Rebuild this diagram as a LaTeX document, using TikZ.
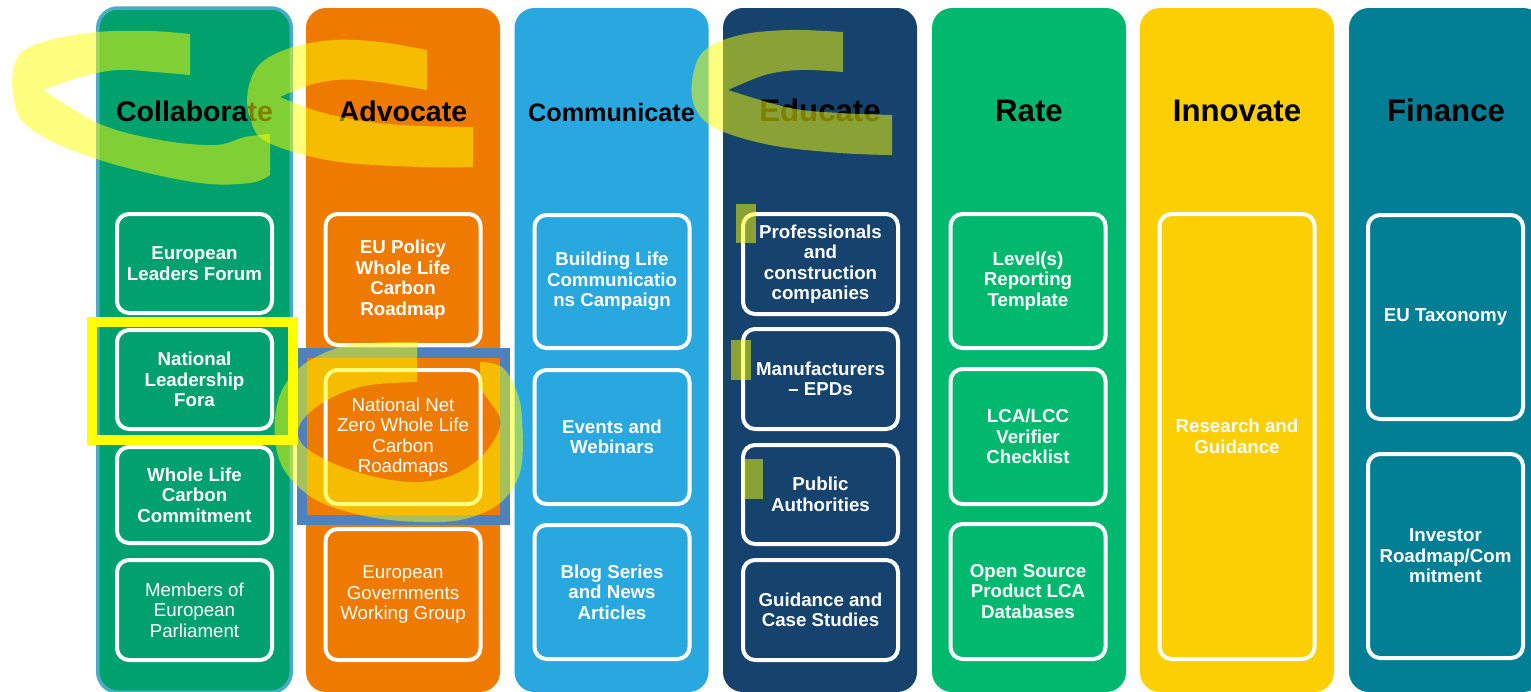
\documentclass[tikz,border=0pt]{standalone}
\usepackage{fontspec}
\setmainfont{Liberation Sans}
\definecolor{cCol}{RGB}{0,161,108}
\definecolor{cColB}{RGB}{75,172,198}
\definecolor{cAdv}{RGB}{238,123,0}
\definecolor{cCom}{RGB}{41,167,223}
\definecolor{cEdu}{RGB}{21,67,110}
\definecolor{cRate}{RGB}{0,185,110}
\definecolor{cInn}{RGB}{251,207,2}
\definecolor{cFin}{RGB}{2,127,149}
\definecolor{markblue}{RGB}{79,129,189}
\definecolor{markyellow}{RGB}{255,255,0}
\begin{document}
\begin{tikzpicture}[x=1pt,y=-1pt,
  col/.style={rounded corners=20pt, minimum width=194pt, minimum height=684pt, inner sep=0pt},
  head/.style={font=\fontsize{28.5}{30}\selectfont\bfseries, text=black, anchor=base, inner sep=0pt},
  bighead/.style={head, font=\fontsize{31.2}{33}\selectfont\bfseries},
  box/.style={draw=white, line width=4pt, rounded corners=12pt, minimum width=155pt, inner sep=0pt, align=center, text=white, font=\fontsize{18.7}{20.5}\selectfont\bfseries},
  plainbox/.style={box, font=\fontsize{18.7}{20.5}\selectfont},
  hl/.style={fill=markyellow, fill opacity=0.5},
  markrect/.style={line width=10pt, inner sep=0pt}]
\useasboundingbox (0,0) rectangle (1531,691);
\clip (0,0) rectangle (1531,691);
\fill[white] (0,0) rectangle (1531,691);

% columns
\node[col, fill=cCol, draw=cColB, line width=3.5pt, minimum width=193.5pt] (col1) at (194.5,350) {};
\node[col, fill=cAdv] (col2) at (403,350) {};
\node[col, fill=cCom] (col3) at (611.5,350) {};
\node[col, fill=cEdu] (col4) at (820,350) {};
\node[col, fill=cRate] (col5) at (1029,350) {};
\node[col, fill=cInn] (col6) at (1237,350) {};
\node[col, fill=cFin] (col7) at (1446,350) {};

% headers
\node[head] (h1) at (194.5,121) {Collaborate};
\node[head] (h2) at (403,121) {Advocate};
\node[head, font=\fontsize{25.2}{27}\selectfont\bfseries] (h3) at (611.5,121) {Communicate};
\node[bighead] (h4) at (820,121) {Educate};
\node[bighead] (h5) at (1029,121) {Rate};
\node[bighead] (h6) at (1237,121) {Innovate};
\node[bighead] (h7) at (1446,121) {Finance};

% Collaborate
\node[box, minimum height=99pt] (b11) at (194.5,263.5) {European\\Leaders Forum};
\node[box, minimum height=99pt] (b12) at (194.5,379.5) {National\\Leadership\\Fora};
\node[box, minimum height=96pt] (b13) at (194.5,495) {Whole Life\\Carbon\\Commitment};
\node[plainbox, minimum height=100pt] (b14) at (194.5,610) {Members of\\European\\Parliament};

% Advocate
\node[box, minimum height=131pt] (b21) at (403,279.5) {EU Policy\\Whole Life\\Carbon\\Roadmap};
\node[plainbox, minimum height=134pt] (b22) at (403,437) {National Net\\Zero Whole Life\\Carbon\\Roadmaps};
\node[plainbox, minimum height=131pt] (b23) at (403,594.5) {European\\Governments\\Working Group};

% Communicate
\node[box, minimum height=133pt] (b31) at (612,281.5) {Building Life\\Communicatio\\ns Campaign};
\node[box, minimum height=134pt] (b32) at (612,437) {Events and\\Webinars};
\node[box, minimum height=134pt] (b33) at (612,592) {Blog Series\\and News\\Articles};

% Educate
\node[box, minimum height=100pt] (b41) at (820.5,264) {Professionals\\and\\construction\\companies};
\node[box, minimum height=100pt] (b42) at (820.5,379) {Manufacturers\\– EPDs};
\node[box, minimum height=99pt] (b43) at (820.5,494.5) {Public\\Authorities};
\node[box, minimum height=100pt] (b44) at (820.5,610) {Guidance and\\Case Studies};

% Rate
\node[box, minimum height=134pt] (b51) at (1028,281) {Level(s)\\Reporting\\Template};
\node[box, minimum height=135pt] (b52) at (1028,436.5) {LCA/LCC\\Verifier\\Checklist};
\node[box, minimum height=135pt] (b53) at (1028,591.5) {Open Source\\Product LCA\\Databases};

% Innovate
\node[box, minimum height=445pt] (b61) at (1237,436.5) {Research and\\Guidance};

% Finance
\node[box, minimum height=204pt] (b71) at (1445.5,317) {EU Taxonomy};
\node[box, minimum height=204pt] (b72) at (1445.5,556) {Investor\\Roadmap/Com\\mitment};

% annotation rectangles
\node[markrect, draw=markblue, minimum width=203pt, minimum height=167pt] (bluemark) at (403.5,436.5) {};
\node[markrect, draw=markyellow, minimum width=201pt, minimum height=118pt] (yellowmark) at (192.5,381) {};

% highlighter strokes
\fill[hl] plot[smooth, tension=0.6] coordinates {(190,34) (150,31) (97,32) (50,40) (22,52) (13,72) (14,100) (25,124) (60,145) (120,166) (200,183) (250,183) (270,175)}
  -- (270,134)
  -- plot[smooth, tension=0.6] coordinates {(270,134) (245,137) (215,145) (160,140) (100,124) (43,90)}
  -- plot[smooth, tension=0.6] coordinates {(43,90) (80,77) (117,70) (155,72) (190,75)}
  -- cycle;
\fill[hl] plot[smooth, tension=0.6] coordinates {(427,50) (380,42) (333,40) (290,48) (260,64) (248,90) (250,118) (267,142) (333,161) (420,167) (473,167)}
  -- (473,127)
  -- plot[smooth, tension=0.6] coordinates {(473,127) (420,126) (370,122) (320,112) (280,97)}
  -- plot[smooth, tension=0.6] coordinates {(280,97) (317,83) (360,80) (427,90)}
  -- cycle;
\fill[hl] plot[smooth, tension=0.6] coordinates {(843,32) (790,30) (740,35) (705,50) (693,75) (694,105) (715,128) (770,145) (840,153) (892,155)}
  -- (892,115)
  -- plot[smooth, tension=0.6] coordinates {(892,115) (840,113) (790,108) (728,90)}
  -- plot[smooth, tension=0.6] coordinates {(728,90) (765,75) (800,70) (843,72)}
  -- cycle;
\fill[hl] plot[smooth, tension=0.6] coordinates {(417,342) (370,343) (337,348) (303,365) (283,388) (275,418) (277,452) (290,478) (320,502) (370,517) (420,522) (460,520) (493,508) (513,488) (522,462) (522,418) (517,392) (503,368) (483,362)}
  -- (480,362) -- (480,388)
  -- plot[smooth, tension=0.6] coordinates {(480,388) (490,402) (500,418) (497,435) (480,458) (453,475) (420,482) (380,478) (337,465) (305,447) (298,430) (310,412) (337,395) (370,385) (417,382)}
  -- cycle;
\fill[hl] (736,204) rectangle (756,243);
\fill[hl] (731,340) rectangle (751,380);
\fill[hl] (744,459) rectangle (763,499);
\end{tikzpicture}
\end{document}
